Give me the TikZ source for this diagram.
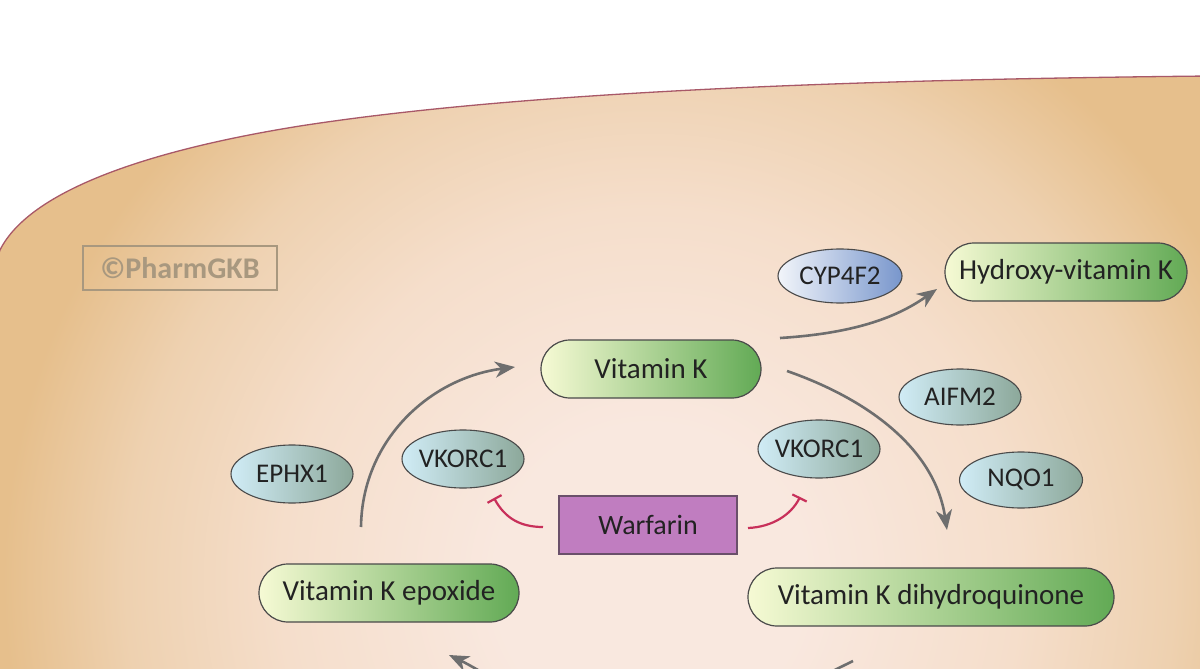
\documentclass[tikz,border=0pt]{standalone}
\usepackage{fontspec}
\setmainfont{Carlito}
\usetikzlibrary{shapes.geometric,arrows.meta}
\definecolor{cellin}{HTML}{F9E8DF}
\definecolor{cellpale}{HTML}{F5DECB}
\definecolor{cellmid}{HTML}{EED1B0}
\definecolor{cellout}{HTML}{E6BF8C}
\definecolor{cellline}{HTML}{A85868}
\definecolor{pillL}{HTML}{F6FAD4}
\definecolor{pillR}{HTML}{62AA55}
\definecolor{ellL}{HTML}{D0ECF6}
\definecolor{ellR}{HTML}{8CA89A}
\definecolor{cypL}{HTML}{F2F5FA}
\definecolor{cypR}{HTML}{7896CC}
\definecolor{nodeline}{HTML}{4A4A4A}
\definecolor{txt}{HTML}{222222}
\definecolor{warf}{HTML}{C07DC0}
\definecolor{warfline}{HTML}{6A506A}
\definecolor{arrowgray}{HTML}{6E6E6E}
\definecolor{inhib}{HTML}{C8305A}
\definecolor{wm}{HTML}{A8987F}
\pgfdeclareradialshading{cellshade}{\pgfpoint{0bp}{0bp}}{color(0bp)=(cellin); color(5bp)=(cellin); color(12bp)=(cellpale); color(17bp)=(cellmid); color(21bp)=(cellout); color(50bp)=(cellout)}
\tikzset{
  pill/.style={rectangle, rounded corners=29pt, draw=nodeline, line width=1.2pt,
    left color=pillL, right color=pillR, minimum height=58pt, inner sep=0pt,
    font=\fontsize{29}{31}\selectfont, text=txt},
  ell/.style={ellipse, draw=nodeline, line width=1.1pt, left color=ellL, right color=ellR,
    inner sep=0pt, font=\fontsize{27}{29}\selectfont, text=txt},
  cyp/.style={ell, left color=cypL, right color=cypR},
  drugbox/.style={rectangle, draw=warfline, line width=1.2pt, fill=warf, inner sep=0pt,
    minimum width=178pt, minimum height=58pt, font=\fontsize{28}{30}\selectfont, text=txt},
  garrow/.style={draw=arrowgray, line width=2.6pt, -{Stealth[length=20pt,width=16pt,inset=6pt]}},
  inh/.style={draw=inhib, line width=2.2pt, -{Bar[width=16pt,line width=2.2pt]}},
  wmbox/.style={rectangle, draw=wm, line width=1.4pt, minimum width=194pt, minimum height=44pt,
    inner sep=0pt, text=wm, font=\fontsize{30}{32}\selectfont\bfseries}
}
\begin{document}
\begin{tikzpicture}[x=1pt,y=-1pt]
\useasboundingbox (0,0) rectangle (1200,669);
\clip (0,0) rectangle (1200,669);
\fill[white] (0,0) rectangle (1200,669);
% cell
\begin{scope}
  \clip (0,250) .. controls (30,190) and (150,150) .. (300,126)
        .. controls (500,95) and (800,80) .. (1210,76) -- (1210,680) -- (-10,680) -- (-10,250) -- cycle;
  \shade[shading=cellshade] (650,580) circle (770);
\end{scope}
\draw[cellline, line width=1.3pt] (-2,256) -- (0,250) .. controls (30,190) and (150,150) .. (300,126)
        .. controls (500,95) and (800,80) .. (1210,76);
% watermark
\node[wmbox] (wmark) at (180,268) {\textcopyright PharmGKB};
% molecules
\node[pill, minimum width=220pt] (vk) at (651,369) {Vitamin K};
\node[pill, minimum width=242pt] (hvk) at (1066,272) {Hydroxy-vitamin K};
\node[pill, minimum width=260pt] (vke) at (389,593) {Vitamin K epoxide};
\node[pill, minimum width=366pt] (vkh) at (931,597) {Vitamin K dihydroquinone};
% enzymes
\node[cyp, minimum width=124pt, minimum height=54pt] (cyp) at (840,276) {\makebox[0pt]{CYP4F2}};
\node[ell, minimum width=122pt, minimum height=56pt] (aifm) at (960,397) {\makebox[0pt]{AIFM2}};
\node[ell, minimum width=122pt, minimum height=58pt] (vkl) at (463,459) {\makebox[0pt]{VKORC1}};
\node[ell, minimum width=122pt, minimum height=58pt] (vkr) at (819,449) {\makebox[0pt]{VKORC1}};
\node[ell, minimum width=123pt, minimum height=56pt] (nqo) at (1021,480) {\makebox[0pt]{NQO1}};
\node[ell, minimum width=122pt, minimum height=58pt] (ephx) at (292,474) {\makebox[0pt]{EPHX1}};
% drug
\node[drugbox] (warfarin) at (648,525) {Warfarin};
% connector endpoints
\coordinate (a1s) at (780,338);
\coordinate (a1e) at (937,289);
\coordinate (a2s) at (787,371);
\coordinate (a2e) at (947,530);
\coordinate (a3s) at (361,527);
\coordinate (a3e) at (515,367);
\coordinate (a4s) at (525,697);
\coordinate (a4e) at (449,655);
\coordinate (a5s) at (853,661);
\coordinate (a5e) at (790,692);
\coordinate (i1s) at (543,527);
\coordinate (i1e) at (494,498);
\coordinate (i2s) at (748,528);
\coordinate (i2e) at (800,497);
% arrows
\draw[garrow] (a1s) .. controls (860,333) and (900,315) .. (a1e);
\draw[garrow] (a2s) .. controls (870,400) and (935,450) .. (a2e);
\draw[garrow] (a3s) .. controls (362,440) and (430,378) .. (a3e);
\draw[garrow] (a4s) .. controls (495,680) and (470,665) .. (a4e);
\draw[draw=arrowgray, line width=2.6pt] (a5s) -- (a5e);
% inhibition
\draw[inh] (i1s) .. controls (520,527) and (505,518) .. (i1e);
\draw[inh] (i2s) .. controls (772,527) and (791,515) .. (i2e);
\end{tikzpicture}
\end{document}
